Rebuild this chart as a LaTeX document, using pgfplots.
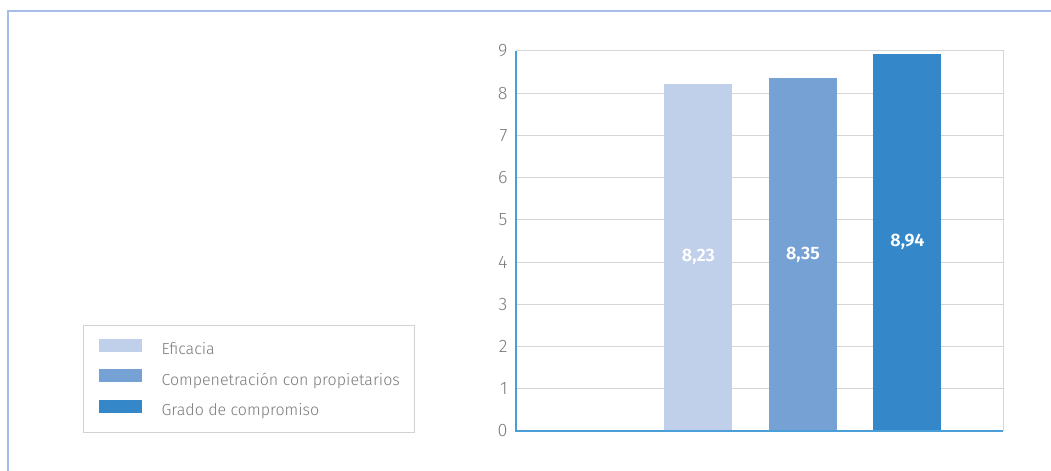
\documentclass[border=0pt]{standalone}
\usepackage{fontspec}
\setmainfont{Fira Sans}[UprightFont=* Light, BoldFont=* SemiBold]
\usepackage{pgfplots}
\pgfplotsset{compat=1.18}
\definecolor{frameblue}{HTML}{A6BDE9}
\definecolor{axisblue}{HTML}{4A9FD8}
\definecolor{cA}{HTML}{C0D0EA}
\definecolor{cB}{HTML}{76A1D4}
\definecolor{cC}{HTML}{3488CA}
\definecolor{txtgray}{HTML}{7A7A7A}
\definecolor{gridgray}{HTML}{D6D6D6}
\begin{document}
\begin{tikzpicture}[x=1bp,y=1bp]
\useasboundingbox (0,0) rectangle (1051,471);
\draw[frameblue, line width=2bp] (8,0) -- (8,460) -- (1051,460);
\begin{axis}[
  at={(516bp,40bp)}, anchor=south west,
  width=487bp, height=380bp, scale only axis,
  xmin=-1.746, xmax=2.914, ymin=0, ymax=9,
  ytick={0,...,9}, xtick=\empty,
  ymajorgrids, grid style={gridgray, line width=1bp},
  axis line style={gridgray, line width=1bp},
  major tick length=0pt,
  yticklabel style={txtgray, font=\fontsize{18bp}{21bp}\selectfont, xshift=-5bp},
  /pgf/number format/assume math mode=true,
  legend style={draw=gray!35, line width=1bp, at={(-0.8891,0.2789)}, anchor=north west,
    inner xsep=15bp, inner ysep=13bp, row sep=10.5bp,
    font=\fontsize{16bp}{19bp}\selectfont, text=txtgray,
    nodes={inner sep=0pt, text height=12bp, text depth=4bp},
    /tikz/every odd column/.append style={column sep=20bp}},
  legend cell align=left,
  legend image code/.code={\fill[#1,draw=none] (0bp,-1bp) rectangle (43bp,12bp);},
  nodes near coords,
  point meta=y,
  nodes near coords style={/pgf/number format/fixed, /pgf/number format/fixed zerofill, /pgf/number format/precision=2, /pgf/number format/use comma},
  visualization depends on={y \as \rawy},
  every node near coord/.append style={text=white, font=\bfseries\fontsize{18bp}{21bp}\selectfont, anchor=center, shift={(axis direction cs:0,-\rawy/2)}},
  after end axis/.code={
    \draw[axisblue, line width=1.5bp] (rel axis cs:0,1) -- (rel axis cs:0,0) -- (rel axis cs:1,0);
  },
]
\addplot[ybar, bar width=68bp, bar shift=0pt, fill=cA, draw=none] coordinates {(0,8.23)};
\addlegendentry{Eficacia}
\addplot[ybar, bar width=68bp, bar shift=0pt, fill=cB, draw=none] coordinates {(1,8.35)};
\addlegendentry{Compenetración con propietarios}
\addplot[ybar, bar width=68bp, bar shift=0pt, fill=cC, draw=none] coordinates {(2,8.94)};
\addlegendentry{Grado de compromiso}
\end{axis}
\end{tikzpicture}
\end{document}
